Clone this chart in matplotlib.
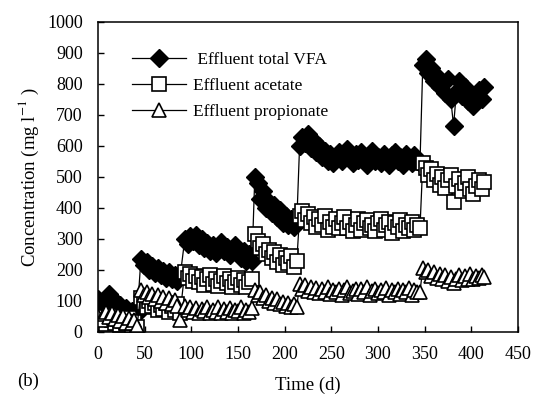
import matplotlib
matplotlib.use("Agg")
import matplotlib.pyplot as plt

plt.rcParams["font.family"] = ["Liberation Serif", "DejaVu Serif"]
plt.rcParams["mathtext.fontset"] = "stix"

# sampling days (d)
days = [0, 3, 6, 9, 12, 15, 18, 21, 24, 27, 30, 33, 36, 39, 42,
        46, 49, 52, 55, 58, 61, 64, 67, 70, 73, 76, 79, 82, 85, 88,
        93, 96, 99, 102, 105, 108, 111, 114, 117, 120, 123, 126, 129, 132, 135,
        138, 141, 144, 147, 150, 153, 156, 159, 162, 165,
        168, 171, 174, 177, 180, 183, 186, 189, 192, 195, 198, 201, 204, 207, 210, 213,
        216, 219, 222, 225, 228, 231, 234, 237, 240, 243, 246, 249, 252, 255, 258,
        261, 264, 267, 270, 273, 276, 279, 282, 285, 288, 291, 294, 297, 300, 303,
        306, 309, 312, 315, 318, 321, 324, 327, 330, 333, 336, 339, 342, 345,
        348, 351, 354, 357, 360, 363, 366, 369, 372, 375, 378, 381, 384, 387, 390,
        393, 396, 399, 402, 405, 408, 411, 414]

total_vfa = [105, 95, 80, 110, 122, 108, 95, 80, 88, 70, 78, 60, 68, 52, 58,
             235, 215, 225, 200, 212, 190, 205, 185, 198, 175, 192, 170, 185, 165, 178,
             300, 285, 310, 295, 312, 280, 300, 270, 288, 262, 280, 255, 272, 290, 260,
             275, 248, 265, 280, 255, 240, 262, 230, 250, 228,
             500, 480, 430, 455, 400, 420, 385, 410, 370, 395, 350, 375, 345, 365, 340, 355,
             600, 630, 610, 640, 595, 615, 580, 600, 565, 585, 550, 575, 545, 565, 580,
             550, 570, 590, 560, 545, 575, 555, 580, 560, 540, 570, 585, 550, 565, 545,
             575, 560, 540, 570, 580, 550, 565, 540, 575, 555, 545, 570, 550, 545,
             860, 880, 835, 850, 810, 825, 790, 800, 770, 815, 750, 665, 775, 810, 760,
             790, 745, 770, 730, 760, 780, 750, 790]

acetate = [40, 30, 48, 25, 52, 38, 30, 42, 22, 35, 28, 45, 20, 32, 15,
           110, 95, 80, 100, 85, 92, 70, 88, 75, 95, 65, 85, 72, 90, 60,
           195, 175, 188, 165, 182, 160, 178, 150, 172, 185, 155, 170, 148, 165, 180,
           158, 170, 145, 162, 175, 150, 168, 145, 160, 170,
           315, 295, 270, 285, 250, 265, 240, 258, 225, 248, 215, 238, 222, 245, 210, 228,
           375, 390, 360, 380, 350, 370, 340, 365, 345, 375, 330, 355, 340, 365, 335,
           350, 370, 335, 355, 325, 345, 365, 330, 350, 360, 335, 345, 325, 350, 365,
           330, 345, 355, 320, 350, 340, 360, 325, 345, 335, 355, 330, 345, 335,
           545, 530, 505, 525, 490, 510, 475, 500, 465, 490, 505, 420, 470, 495, 455,
           480, 500, 460, 445, 470, 490, 460, 485]

propionate = [50, 40, 58, 65, 48, 60, 42, 55, 35, 50, 30, 45, 28, 40, 20,
              135, 120, 128, 112, 122, 105, 118, 100, 112, 95, 108, 90, 102, 85, 40,
              85, 70, 80, 65, 78, 62, 75, 68, 82, 60, 72, 66, 80, 62, 75,
              65, 78, 60, 72, 68, 80, 62, 70, 65, 78,
              135, 120, 128, 110, 118, 100, 110, 95, 105, 90, 98, 85, 95, 82, 90, 80,
              155, 140, 150, 132, 145, 128, 142, 125, 138, 130, 145, 122, 135, 128, 140,
              120, 135, 145, 125, 132, 140, 122, 138, 128, 145, 120, 132, 140, 125, 135,
              128, 142, 120, 135, 128, 140, 122, 135, 130, 142, 120, 135, 128, 130,
              205, 195, 200, 182, 192, 175, 188, 170, 185, 165, 178, 158, 172, 185, 168,
              180, 172, 188, 170, 182, 175, 185, 178]

fig = plt.figure(figsize=(5.34, 3.99), dpi=100)
ax = fig.add_axes([0.1835, 0.168, 0.7865, 0.777])

ax.plot(days, total_vfa, color="black", lw=0.9, marker="D", ms=9.5,
        mfc="black", mec="black", label=" Effluent total VFA")
ax.plot(days, acetate, color="black", lw=0.9, marker="s", ms=9.5,
        mfc="white", mec="black", mew=1.2, label="Effluent acetate")
ax.plot(days, propionate, color="black", lw=0.9, marker="^", ms=10.5,
        mfc="white", mec="black", mew=1.2, label="Effluent propionate")

ax.set_xlim(0, 450)
ax.set_ylim(0, 1000)
ax.set_xticks(range(0, 451, 50))
ax.set_yticks(range(0, 1001, 100))
ax.tick_params(direction="in", length=4, width=1, labelsize=13,
               top=False, right=False)
ax.tick_params(axis="y", pad=11)
ax.tick_params(axis="x", pad=10)
for s in ax.spines.values():
    s.set_linewidth(1.1)

ax.set_ylabel("Concentration (mg l$^{-1}$ )", fontsize=13.5, labelpad=4)
ax.set_xlabel("Time (d)", fontsize=13.5, labelpad=10)
fig.text(0.052, 0.043, "(b)", fontsize=13.5, ha="center", va="center")

ax.legend(loc="upper left", bbox_to_anchor=(0.06, 0.93), frameon=False,
          fontsize=12.5, handlelength=3.1, handletextpad=0.4, labelspacing=0.55,
          borderpad=0)

fig.savefig("out.png", dpi=100)
